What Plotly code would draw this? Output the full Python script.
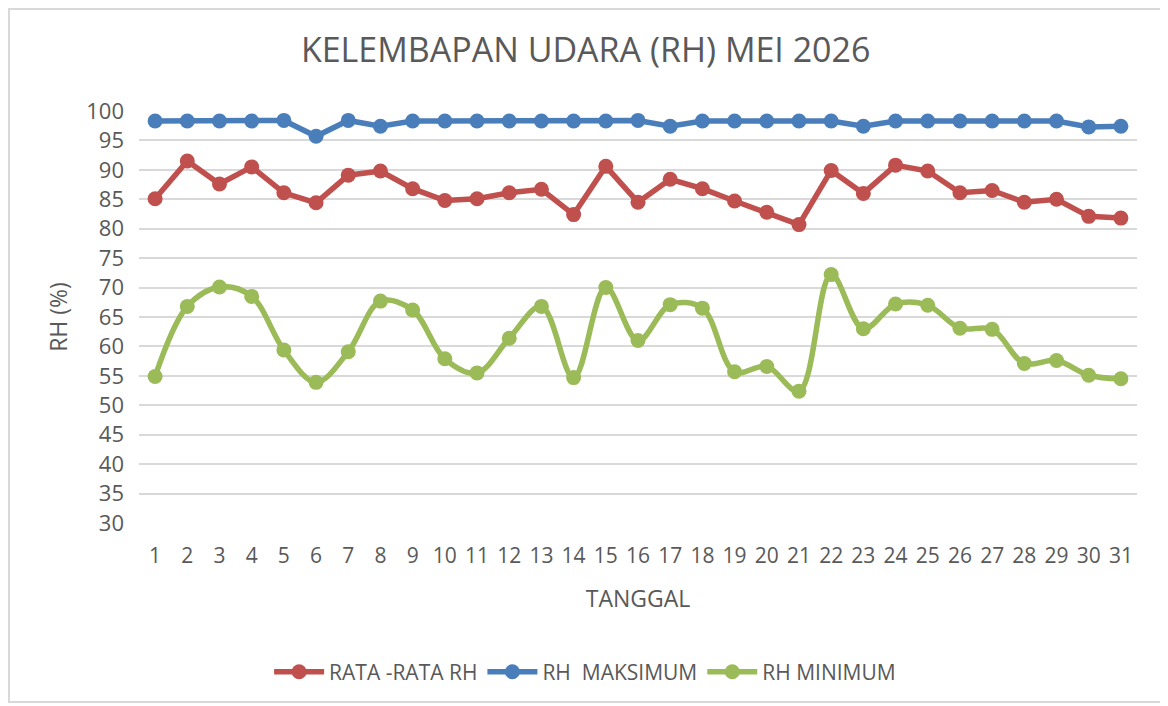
import plotly.graph_objects as go

days = [str(d) for d in range(1, 32)]

rh_rata = [85.1, 91.5, 87.6, 90.5, 86.1, 84.4, 89.1, 89.8, 86.8, 84.8,
           85.1, 86.1, 86.7, 82.4, 90.6, 84.5, 88.4, 86.8, 84.7, 82.8,
           80.7, 89.9, 86.0, 90.8, 89.8, 86.1, 86.5, 84.5, 85.0, 82.1, 81.8]

rh_maks = [98.3, 98.3, 98.3, 98.3, 98.4, 95.7, 98.4, 97.4, 98.3, 98.3,
           98.3, 98.3, 98.3, 98.3, 98.3, 98.4, 97.4, 98.3, 98.3, 98.3,
           98.3, 98.3, 97.4, 98.3, 98.3, 98.3, 98.3, 98.3, 98.3, 97.3, 97.4]

rh_min = [54.9, 66.8, 70.1, 68.5, 59.4, 53.9, 59.1, 67.7, 66.2, 57.9,
          55.5, 61.4, 66.8, 54.7, 70.0, 61.0, 67.1, 66.5, 55.7, 56.6,
          52.4, 72.2, 63.0, 67.2, 67.0, 63.1, 62.9, 57.1, 57.6, 55.1, 54.5]

y_ticks = list(range(30, 101, 5))

FONT = "Open Sans"
TXT = "#595959"

fig = go.Figure()
fig.add_trace(go.Scatter(x=days, y=rh_rata, name="RATA -RATA RH", mode="lines+markers",
                         line=dict(color="#C0504D", width=5.5),
                         marker=dict(color="#C0504D", size=15)))
fig.add_trace(go.Scatter(x=days, y=rh_maks, name="RH  MAKSIMUM", mode="lines+markers",
                         line=dict(color="#4A7EBB", width=5.5),
                         marker=dict(color="#4A7EBB", size=15)))
fig.add_trace(go.Scatter(x=days, y=rh_min, name="RH MINIMUM", mode="lines+markers",
                         line=dict(color="#9BBB59", width=5.5, shape="spline", smoothing=1.0),
                         marker=dict(color="#9BBB59", size=15)))

fig.update_layout(
    width=1160, height=698,
    margin=dict(l=131, r=31, t=103, b=183),
    paper_bgcolor="white", plot_bgcolor="white",
    font=dict(family=FONT, color=TXT),
    title=dict(text="KELEMBAPAN UDARA (RH) MEI 2026", x=0.498, xanchor="center",
               y=1 - 42 / 698, yanchor="middle",
               font=dict(family=FONT, size=34, color=TXT)),
    showlegend=True,
    legend=dict(orientation="h", x=0.447, xanchor="center", y=-0.362, yanchor="middle",
                font=dict(family=FONT, size=21, color=TXT), itemwidth=50,
                traceorder="normal"),
    xaxis=dict(type="category", range=[-0.5, 30.5], showgrid=False, zeroline=False,
               showline=False, ticks="", tickfont=dict(size=21, color=TXT),
               ticklabelstandoff=18,
               title=dict(text="TANGGAL", font=dict(size=23, color=TXT), standoff=22)),
    yaxis=dict(range=[30, 100], tickvals=y_ticks, showgrid=True, gridcolor="#D9D9D9",
               gridwidth=1.5, zeroline=False, showline=False, ticks="",
               tickfont=dict(size=22, color=TXT), ticklabelstandoff=14,
               title=dict(text="RH (%)", font=dict(size=23, color=TXT), standoff=12)),
    shapes=[dict(type="rect", xref="paper", yref="paper",
                 x0=-130 / 998, x1=1027 / 998, y0=-179 / 412, y1=1 + 102 / 412,
                 line=dict(color="#D9D9D9", width=2), fillcolor="rgba(0,0,0,0)", layer="below")],
)

fig.write_html("out.html")
